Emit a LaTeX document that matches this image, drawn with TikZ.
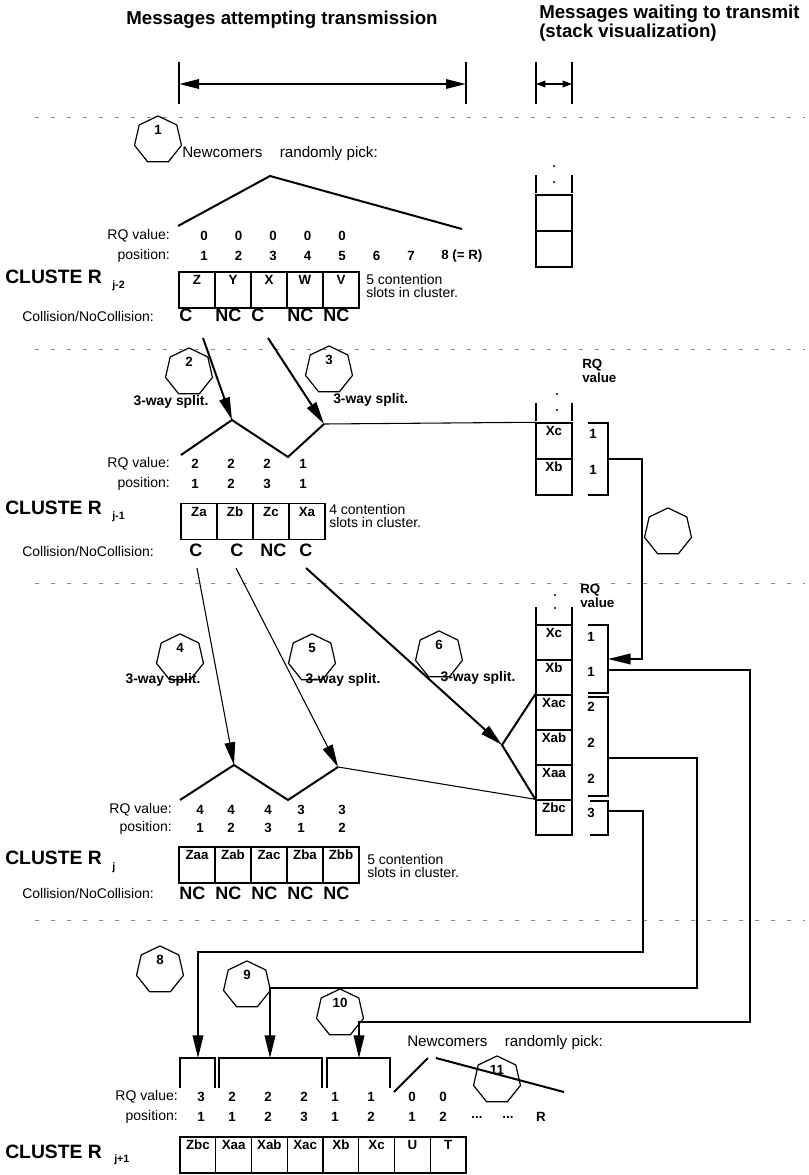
\documentclass[tikz,border=0pt]{standalone}
\usepackage{fontspec}
\setmainfont{Liberation Sans}
\usetikzlibrary{arrows.meta,shapes.geometric}
\tikzset{
  slot/.style={draw,line width=1.1pt,minimum width=27pt,minimum height=27pt,inner sep=0pt,
               text height=8pt,text depth=16pt,font=\bfseries\fontsize{10}{12}\selectfont},
  cell/.style={slot,minimum height=26.25pt},
  hept/.style={draw,regular polygon,regular polygon sides=7,minimum size=26pt,inner sep=0pt,
               line width=0.9pt,text height=7.5pt,text depth=15.5pt,
               font=\bfseries\fontsize{10}{12}\selectfont},
  txt/.style={font=\fontsize{10.5}{10}\selectfont,inner sep=0pt},
  btxt/.style={font=\bfseries\fontsize{10}{11}\selectfont,inner sep=0pt},
  val/.style={font=\bfseries\fontsize{10}{12}\selectfont,inner sep=0pt},
  cnc/.style={font=\bfseries\fontsize{13.5}{15}\selectfont,inner sep=0pt,anchor=west},
  clus/.style={font=\bfseries\fontsize{14.5}{17}\selectfont,inner sep=0pt,anchor=west},
  sub/.style={font=\bfseries\fontsize{8}{9}\selectfont,inner sep=0pt,anchor=west},
  split/.style={font=\bfseries\fontsize{10.4}{12}\selectfont,inner sep=0pt},
  newc/.style={font=\fontsize{11.4}{13}\selectfont,inner sep=0pt,anchor=west},
  head/.style={font=\bfseries\fontsize{14}{12.75}\selectfont,inner sep=0pt},
  sep/.style={draw=black!45,dash pattern=on 3pt off 9pt,line width=0.5pt},
  wire/.style={line width=1.5pt},
  thin/.style={line width=0.8pt},
  loopw/.style={line width=1.1pt},
  ar/.style={-{Triangle[length=17pt,width=8pt]}},
  brk/.style={line width=1.1pt}
}
\begin{document}
\begin{tikzpicture}[x=0.75pt,y=-0.75pt]
\useasboundingbox (0,0) rectangle (808,1175);

% headings
\node[head] (h1) at (282,20) {Messages attempting transmission};
\node[head,anchor=north west,align=left] (h2) at (539,5) {Messages waiting to transmit\\(stack visualization)};
\draw[line width=1pt] (179,62) -- (179,104) (466,62) -- (466,104) (536,62) -- (536,104) (572,62) -- (572,104);
\draw[line width=1.5pt,{Triangle[length=15pt,width=7pt]}-{Triangle[length=15pt,width=7pt]}] (179,84) -- (466,84);
\draw[line width=1pt,{Triangle[length=7pt,width=5pt]}-{Triangle[length=7pt,width=5pt]}] (536,84) -- (572,84);
\foreach \y in {117,349,583,920}
  \draw[sep] (35,\y) -- (805,\y);

% cluster j-2
\node[hept] (n1) at (158,140) {1};
\node[newc] (nc1) at (182,154) {Newcomers\hspace{13pt}randomly pick:};
\coordinate (r1a) at (178,226);
\coordinate (r1p) at (270,176);
\coordinate (r1b) at (462,229);
\draw[wire] (r1a) -- (r1p) -- (r1b);
\fill (554,166) circle (0.9pt) (554,182) circle (0.9pt);
\draw[brk] (536,175) -- (536,193) (572,175) -- (572,193);
\node[slot] (s1a) at (554,213) {};
\node[slot] (s1b) at (554,249) {};
\node[txt,anchor=east] (rq1) at (170,236) {RQ value:};
\node[txt,anchor=east] (ps1) at (170,256) {position:};
\foreach \v [count=\i] in {0,0,0,0,0}
  \node[val] (rq1-\i) at ({204+34.5*(\i-1)},236) {\v};
\foreach \v [count=\i] in {1,2,3,4,5,6,7}
  \node[val] (ps1-\i) at ({204+34.5*(\i-1)},256) {\v};
\node[val,anchor=west] (ps1-8) at (441,256) {8 (= R)};
\node[clus] (cl1) at (5,277) {CLUSTE R};
\node[sub] (cl1s) at (112,286) {j-2};
\foreach \t [count=\i] in {Z,Y,X,W,V}
  \node[slot] (a\i) at ({197+36*(\i-1)},290) {\t};
\node[txt,anchor=west,align=left] (ct1) at (366,286) {5 contention\\slots in cluster.};
\node[txt,anchor=west] (cn1) at (22,316) {Collision/NoCollision:};
\foreach \t [count=\i] in {C,NC,C,NC,NC}
  \node[cnc] (ca\i) at ({179+36*(\i-1)},315) {\t};

% cluster j-1
\coordinate (tA) at (203,338);
\coordinate (tB) at (268,338);
\coordinate (z2a) at (181,455);
\coordinate (pk2a) at (232,420);
\coordinate (z2v) at (288,457);
\coordinate (pk2b) at (324,424);
\draw[wire] (z2a) -- (pk2a) -- (z2v) -- (pk2b);
\draw[wire,ar] (tA) -- (pk2a);
\draw[wire,ar] (tB) -- (pk2b);
\node[hept] (n2) at (189,372) {2};
\node[split] (sp2) at (171,402) {3-way split.};
\node[hept] (n3) at (329,370) {3};
\node[split,anchor=west] (sp3) at (333,400) {3-way split.};
\node[btxt,anchor=west,align=left] (rqh2) at (582,371) {RQ\\value};
\fill (557,394) circle (0.9pt) (557,410) circle (0.9pt);
\draw[brk] (536,403) -- (536,421) (572,403) -- (572,421);
\node[slot] (s2a) at (554,441) {Xc};
\node[slot] (s2b) at (554,477) {Xb};
\draw[thin] (pk2b) -- (s2a.north west);
\draw[brk] (588,423) -- (608,423) -- (608,495) -- (588,495);
\node[val] (q2a) at (593,434) {1};
\node[val] (q2b) at (593,470) {1};
\node[txt,anchor=east] (rq2) at (170,464) {RQ value:};
\node[txt,anchor=east] (ps2) at (170,484) {position:};
\foreach \v [count=\i] in {2,2,2,1}
  \node[val] (rq2-\i) at ({195+36*(\i-1)},464) {\v};
\foreach \v [count=\i] in {1,2,3,1}
  \node[val] (ps2-\i) at ({195+36*(\i-1)},484) {\v};
\node[clus] (cl2) at (5,508) {CLUSTE R};
\node[sub] (cl2s) at (112,517) {j-1};
\foreach \t [count=\i] in {Za,Zb,Zc,Xa}
  \node[slot] (b\i) at ({199+36*(\i-1)},521.5) {\t};
\node[txt,anchor=west,align=left] (ct2) at (329,516) {4 contention\\slots in cluster.};
\node[txt,anchor=west] (cn2) at (22,551) {Collision/NoCollision:};
\foreach \t/\x [count=\i] in {C/189,C/230,NC/260,C/299}
  \node[cnc] (cb\i) at (\x,550) {\t};

% cluster j
\node[btxt,anchor=west,align=left] (rqh3) at (580,596) {RQ\\value};
\fill (555,595) circle (0.9pt) (555,608) circle (0.9pt);
\draw[brk] (536,607) -- (536,625) (572,607) -- (572,625);
\foreach \t [count=\i] in {Xc,Xb,Xac,Xab,Xaa,Zbc}
  \node[cell] (s3\i) at (554,{642.5+35*(\i-1)}) {\t};
\draw[brk] (588,625) -- (608,625) -- (608,693) -- (588,693);
\draw[brk] (588,697) -- (608,697) -- (608,796) -- (588,796);
\draw[brk] (590,801) -- (608,801) -- (608,835) -- (590,835);
\foreach \v/\y [count=\i] in {1/637,1/672,2/707,2/743,2/779,3/813}
  \node[val] (q3\i) at (591,\y) {\v};
\coordinate (o7) at (608,459);
\coordinate (i7) at (608,659);
\draw[loopw,ar] (o7) -| (642,659) -- (i7);
\node[hept] (n7) at (668,532) {};

\coordinate (t4) at (197,568);
\coordinate (t5) at (236,568);
\coordinate (t6) at (306,568);
\coordinate (z3a) at (180,800);
\coordinate (pk3a) at (234,765);
\coordinate (z3v) at (288,800);
\coordinate (pk3b) at (338,767);
\coordinate (v6) at (502,745);
\draw[wire] (z3a) -- (pk3a) -- (z3v) -- (pk3b);
\draw[thin] (pk3b) -- (s36.north west);
\draw[wire] (s33.north west) -- (v6) -- (s36.north west);
\draw[thin,ar] (t4) -- (pk3a);
\draw[thin,ar] (t5) -- (pk3b);
\draw[wire,ar] (t6) -- (v6);
\node[hept] (n4) at (180,658) {4};
\node[split] (sp4) at (163,680) {3-way split.};
\node[hept] (n5) at (312,658) {5};
\node[split] (sp5) at (343,680) {3-way split.};
\node[hept] (n6) at (439,655) {6};
\node[split] (sp6) at (478,678) {3-way split.};
\node[txt,anchor=east] (rq3) at (172,810) {RQ value:};
\node[txt,anchor=east] (ps3) at (172,828) {position:};
\foreach \v/\x [count=\i] in {4/200,4/231,4/268,3/301,3/342}
  \node[val] (rq3-\i) at (\x,810) {\v};
\foreach \v/\x [count=\i] in {1/200,2/231,3/268,1/301,2/342}
  \node[val] (ps3-\i) at (\x,828) {\v};
\node[clus] (cl3) at (5,858) {CLUSTE R};
\node[sub] (cl3s) at (112,868) {j};
\foreach \t [count=\i] in {Zaa,Zab,Zac,Zba,Zbb}
  \node[slot] (c\i) at ({197+36*(\i-1)},865) {\t};
\node[txt,anchor=west,align=left] (ct3) at (367,866) {5 contention\\slots in cluster.};
\node[txt,anchor=west] (cn3) at (22,893) {Collision/NoCollision:};
\foreach \i in {1,...,5}
  \node[cnc] (cc\i) at ({179+36*(\i-1)},893) {NC};

% cluster j+1
\coordinate (o8) at (608,811);
\coordinate (o9) at (608,758);
\coordinate (o10) at (608,670);
\coordinate (t8) at (198,1058);
\coordinate (t9) at (270,1058);
\coordinate (t10) at (359,1058);
\draw[loopw,ar] (o8) -| (643,952) -| (t8);
\draw[loopw,ar] (o9) -| (697,988) -| (t9);
\draw[loopw,ar] (o10) -| (750,1022) -| (t10);
\node[hept] (n8) at (160,970) {8};
\node[hept] (n9) at (247,985) {9};
\node[hept] (n10) at (340,1013) {10};
\draw[brk] (180,1088) -- (180,1058) -- (215,1058) -- (215,1088);
\draw[brk] (219,1088) -- (219,1058) -- (322,1058) -- (322,1088);
\draw[brk] (327,1088) -- (327,1058) -- (390,1058) -- (390,1088);
\node[newc] (nc2) at (407,1043) {Newcomers\hspace{13pt}randomly pick:};
\coordinate (r4a) at (394,1092);
\coordinate (r4p) at (428,1058);
\coordinate (r4q) at (436,1058);
\coordinate (r4b) at (564,1092);
\draw[wire] (r4a) -- (r4p);
\draw[wire] (r4q) -- (r4b);
\node[hept] (n11) at (497,1080) {11};
\node[txt,anchor=east] (rq4) at (178,1097) {RQ value:};
\node[txt,anchor=east] (ps4) at (178,1117) {position:};
\foreach \v/\x [count=\i] in {3/201,2/232,2/268,2/304,1/335,1/371,0/412,0/443}
  \node[val] (rq4-\i) at (\x,1097) {\v};
\foreach \v/\x [count=\i] in {1/201,1/232,2/268,3/304,1/335,2/371,1/412,2/443}
  \node[val] (ps4-\i) at (\x,1117) {\v};
\node[val] (ps4-9) at (477,1117) {...};
\node[val] (ps4-10) at (508,1117) {...};
\node[val] (ps4-11) at (541,1117) {R};
\node[clus] (cl4) at (5,1152) {CLUSTE R};
\node[sub] (cl4s) at (114,1160) {j+1};
\foreach \t [count=\i] in {Zbc,Xaa,Xab,Xac,Xb,Xc,U,T}
  \node[slot,minimum width=26.8pt] (d\i) at ({180+35.75*(\i-0.5)},1155) {\t};
\end{tikzpicture}
\end{document}
